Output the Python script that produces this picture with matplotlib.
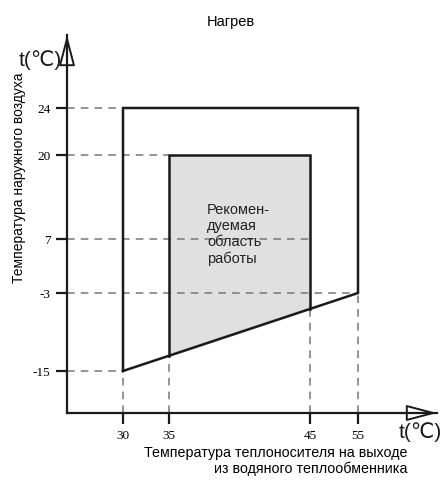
import numpy as np
import matplotlib
matplotlib.use("Agg")
import matplotlib.pyplot as plt

plt.rcParams['font.family'] = ['Liberation Sans', 'DejaVu Sans']

# tick values on the schematic axes
water_ticks = [30, 35, 45, 55]
air_ticks = [-15, -3, 7, 20, 24]

# operating envelope (outer) and recommended zone (inner)
outer_x = [30, 30, 55, 55, 30]
outer_y = [-15, 24, 24, -3, -15]
inner_x_lo, inner_x_hi = 35, 45
inner_y_top = 20

# the axes are not to scale: tick values sit at fixed pixel places
x_pix = [123, 169, 310, 358]
y_pix = [480 - p for p in [371, 293, 239, 155, 108]]


def pw(v, xp, fp):
    v = np.asarray(v, dtype=float)
    out = np.interp(v, xp, fp)
    s0 = (fp[1] - fp[0]) / (xp[1] - xp[0])
    s1 = (fp[-1] - fp[-2]) / (xp[-1] - xp[-2])
    out = np.where(v < xp[0], fp[0] + (v - xp[0]) * s0, out)
    out = np.where(v > xp[-1], fp[-1] + (v - xp[-1]) * s1, out)
    return out


fx = lambda v: pw(v, water_ticks, x_pix)
ix = lambda v: pw(v, x_pix, water_ticks)
fy = lambda v: pw(v, air_ticks, y_pix)
iy = lambda v: pw(v, y_pix, air_ticks)

W, H = 441, 480
ox, oy = 67, 480 - 413
tx, ty = 437, 480 - 35

fig = plt.figure(figsize=(W / 100, H / 100), dpi=100)
ax = fig.add_axes([ox / W, oy / H, (tx - ox) / W, (ty - oy) / H])
ax.set_xscale('function', functions=(fx, ix))
ax.set_yscale('function', functions=(fy, iy))
ax.set_xlim(float(ix(ox)), float(ix(tx)))
ax.set_ylim(float(iy(oy)), float(iy(ty)))
x0 = float(ix(ox))
y0 = float(iy(oy))

for s in ['top', 'right']:
    ax.spines[s].set_visible(False)
for s in ['left', 'bottom']:
    ax.spines[s].set_linewidth(1.6)
    ax.spines[s].set_color('#1a1a1a')

ax.set_xticks(water_ticks)
ax.set_yticks(air_ticks)
ax.set_xticklabels([str(v) for v in water_ticks])
ax.set_yticklabels([str(v) for v in air_ticks])
ax.tick_params(direction='out', length=8, width=1.6, color='#1a1a1a',
               labelsize=9.5, pad=4)
for lab in ax.get_xticklabels() + ax.get_yticklabels():
    lab.set_fontfamily('Liberation Serif')
ax.minorticks_off()

# arrow heads
for tip, tail in [((0, 1), (0, 0.93)), ((1, 0), (0.93, 0))]:
    ax.annotate('', xy=tip, xytext=tail, xycoords='axes fraction',
                arrowprops=dict(arrowstyle='-|>,head_length=0.95,head_width=0.25',
                                fc='white', ec='#1a1a1a', lw=1.4,
                                mutation_scale=20, shrinkA=0, shrinkB=0),
                annotation_clip=False, zorder=2)


# lower boundary of envelope, straight on the page
def lower_y(xv):
    px = fx(xv)
    p0, p1 = fx(30), fx(55)
    q0, q1 = fy(-15), fy(-3)
    return float(iy(q0 + (px - p0) * (q1 - q0) / (p1 - p0)))


y35 = lower_y(inner_x_lo)
y45 = lower_y(inner_x_hi)

inner_x = [inner_x_lo, inner_x_lo, inner_x_hi, inner_x_hi]
inner_y = [y35, inner_y_top, inner_y_top, y45]
ax.fill(inner_x, inner_y, color='#e0e0e0', zorder=1)
ax.plot(inner_x, inner_y, color='#1a1a1a', lw=1.8, zorder=3,
        solid_joinstyle='miter')
ax.plot(outer_x, outer_y, color='#1a1a1a', lw=1.8, zorder=3,
        solid_joinstyle='miter')

# dashed guides
dash = dict(color='#777777', lw=1.1, ls=(0, (5, 4)), zorder=2)
h_end = {24: 30, 20: 35, 7: 45, -3: 55, -15: 30}
for yv in air_ticks:
    ax.plot([x0, h_end[yv]], [yv, yv], **dash)
v_top = {30: -15, 35: y35, 45: y45, 55: -3}
for xv in water_ticks:
    ax.plot([xv, xv], [y0, v_top[xv]], **dash)

fig.text(207 / W, 1 - 203 / H, 'Рекомен-\nдуемая\nобласть\nработы',
         fontsize=10.5, va='top', ha='left', linespacing=1.2, color='#222222')

fig.text(231 / W, 1 - 22 / H, 'Нагрев', ha='center', va='center', fontsize=10.5)
fig.text(19 / W, 1 - 178 / H, 'Температура наружного воздуха', rotation=90,
         ha='center', va='center', fontsize=10)
fig.text(408 / W, 1 - 446 / H,
         'Температура теплоносителя на выходе\nиз водяного теплообменника',
         ha='right', va='top', fontsize=10.3, multialignment='right',
         linespacing=1.1)

# axis unit labels
fig.text(40 / W, 1 - 60 / H, 't(℃)', ha='center', va='center', fontsize=15,
         color='#1a1a1a')
fig.text(420 / W, 1 - 432 / H, 't(℃)', ha='center', va='center', fontsize=15,
         color='#1a1a1a')

fig.savefig('out.png', dpi=100)
